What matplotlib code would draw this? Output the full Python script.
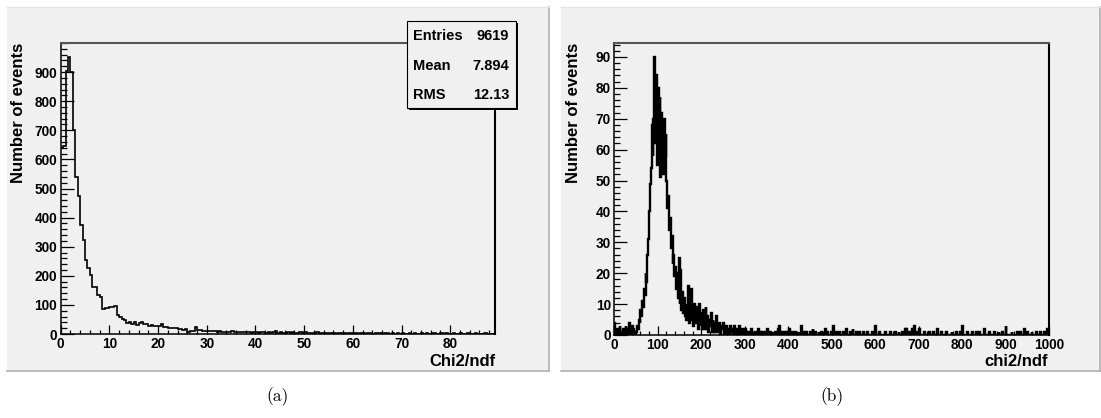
import numpy as np
import matplotlib
matplotlib.use('Agg')
import matplotlib.pyplot as plt
from matplotlib.patches import Rectangle
from matplotlib.ticker import MultipleLocator

# ---------------- data ----------------
# (a) Chi2/ndf, bins of 0.5 from 0 to 89
bin_width_a = 0.5
counts_a = [638, 645, 905, 953, 899, 701, 541, 474, 375, 323, 254, 227, 203,
            162, 160, 134, 128, 86, 88, 90, 92, 94, 95, 65, 60,
            50, 48, 39, 42, 34, 40, 30, 39, 42, 34, 33, 29, 30, 29, 28,
            27, 33, 25, 24, 20, 21, 19, 20, 16, 17, 15, 16, 8, 11, 12, 23, 14, 13,
            11, 12, 10, 11, 12, 9, 8, 9, 7, 8, 8, 7, 9, 8, 7, 7, 6, 8, 6, 7, 5, 6,
            7, 5, 8, 6, 4, 7, 5, 6, 9, 4, 6, 5, 3, 7, 4, 6, 5, 3, 6, 4,
            6, 3, 5, 2, 4, 7, 3, 2, 4, 3, 2, 5, 3, 1, 4, 2, 3, 1, 4, 2,
            2, 3, 1, 2, 4, 1, 3, 2, 1, 3, 2, 4, 1, 2, 3, 1, 2, 0, 3, 1,
            2, 1, 0, 3, 1, 2, 0, 1, 3, 1, 2, 0, 1, 2, 1, 0, 2, 1, 3, 0,
            1, 2, 0, 1, 3, 1, 0, 2, 1, 0, 2, 1, 0, 1, 2, 0, 1, 0]
stats_labels = ['Entries', 'Mean', 'RMS']
stats_values = ['9619', '7.894', '12.13']

# (b) chi2/ndf, bins of 2 from 0 to 1000
bin_width_b = 2
counts_b_core = [4, 1, 0, 2, 0, 1, 3, 0, 1, 0, 2, 0, 0, 3, 1, 0, 2, 4, 0, 1, 3, 0, 2, 1, 0,
                 1, 3, 2, 5, 4,
                 8, 6, 11, 9, 15, 13, 20, 17, 26, 31, 40, 49, 54, 68, 58,
                 70, 90, 62, 84, 55,
                 80, 60, 77, 51, 72,
                 66, 52, 70, 58, 65,
                 50, 41, 45, 34, 38,
                 28, 32, 23, 26, 19,
                 22, 15, 20, 12, 25,
                 10, 21, 8, 14, 7,
                 12, 6, 10, 5, 9,
                 16, 4, 9, 15, 5,
                 8, 3, 10, 4, 7,
                 9, 2, 10, 3, 7,
                 5, 2, 8, 2, 5,
                 9, 2, 6, 1, 5,
                 3, 7, 1, 5, 1, 4, 1, 6, 1, 3, 1, 4, 0, 3, 2,
                 4, 0, 2, 0, 3,
                 1, 2, 0, 3, 1,
                 2, 0, 1, 3, 0,
                 1, 2, 0, 1, 3, 0, 2, 1, 0, 2]
tail_x_b = [300, 304, 308, 314, 318, 324, 330, 336, 340, 346,
            352, 358, 364, 370, 376, 380, 386, 392, 398, 402,
            408, 416, 424, 430, 436, 442, 450, 456, 462, 470,
            476, 484, 490, 498, 504, 510, 518, 526, 534, 542,
            548, 556, 564, 572, 582, 592, 600, 610, 622, 634,
            646, 654, 662, 668, 672, 678, 684, 690, 696, 702,
            712, 724, 734, 742, 752, 764, 776, 786, 796, 800,
            812, 824, 832, 840, 850, 862, 874, 884, 892, 900,
            914, 926, 934, 942, 950, 960, 970, 980, 988, 996]
tail_n_b = [2, 1, 1, 2, 1, 1, 2, 1, 1, 1,
            2, 1, 1, 1, 2, 3, 1, 1, 1, 2,
            1, 1, 1, 3, 1, 1, 1, 2, 1, 1,
            1, 2, 1, 1, 3, 1, 1, 1, 2, 1,
            2, 1, 1, 1, 1, 1, 3, 1, 1, 1,
            1, 1, 1, 2, 2, 1, 2, 3, 1, 2,
            1, 1, 1, 2, 1, 1, 1, 1, 1, 3,
            1, 1, 1, 1, 2, 1, 1, 1, 1, 3,
            1, 1, 1, 2, 1, 1, 1, 1, 1, 2]

# ---------------- figure ----------------
plt.rcParams['font.family'] = ['Liberation Sans', 'DejaVu Sans']
plt.rcParams['font.weight'] = 'bold'

W, H = 1101, 418
fig = plt.figure(figsize=(W / 100, H / 100), dpi=100)
fig.patch.set_facecolor('white')

def fx(x):
    return x / W

def fy(y):
    return 1 - y / H

PAD = '#f0f0f0'

def draw_pad(x0, y0, x1, y1):
    fig.add_artist(Rectangle((fx(x0), fy(y1)), fx(x1) - fx(x0), fy(y0) - fy(y1),
                             transform=fig.transFigure, fc=PAD, ec='none', zorder=-10))
    # bevel: dark bottom / right edges, light top
    fig.add_artist(plt.Line2D([fx(x0), fx(x1)], [fy(y1), fy(y1)], transform=fig.transFigure,
                              color='#b0b0b0', lw=1.2, zorder=-9))
    fig.add_artist(plt.Line2D([fx(x1), fx(x1)], [fy(y0), fy(y1)], transform=fig.transFigure,
                              color='#b0b0b0', lw=1.2, zorder=-9))
    fig.add_artist(plt.Line2D([fx(x0), fx(x1)], [fy(y0), fy(y0)], transform=fig.transFigure,
                              color='#e4e4e4', lw=1.0, zorder=-9))


def style_axes(ax):
    ax.set_facecolor('none')
    for s in ['left', 'bottom']:
        ax.spines[s].set_color('black')
        ax.spines[s].set_linewidth(1.1)
    ax.spines['top'].set_color('#555555')
    ax.spines['top'].set_linewidth(1.5)
    ax.spines['right'].set_color('black')
    ax.spines['right'].set_linewidth(1.5)
    ax.tick_params(axis='both', which='both', direction='in', top=False, right=False,
                   width=0.9, colors='black', labelsize=9.8, pad=2.5)
    ax.tick_params(axis='x', which='major', length=6.5)
    ax.tick_params(axis='x', which='minor', length=3.2)
    ax.tick_params(axis='y', which='major', length=9.3)
    ax.tick_params(axis='y', which='minor', length=4.5)
    for lab in ax.get_xticklabels() + ax.get_yticklabels():
        lab.set_fontweight('bold')


draw_pad(7, 7, 549, 371)
draw_pad(561, 7, 1100, 371)

# ---- (a) ----
edges_a = np.arange(len(counts_a) + 1) * bin_width_a
ax1 = fig.add_axes([fx(60.7), fy(334), fx(495) - fx(60.7), fy(43) - fy(334)])
ax1.stairs(counts_a, edges_a, color='black', lw=1.2, baseline=None)
ax1.set_xlim(0, 89.2)
ax1.set_ylim(0, 1000)
ax1.xaxis.set_minor_locator(MultipleLocator(2))
ax1.yaxis.set_minor_locator(MultipleLocator(20))
ax1.set_xticks(np.arange(0, 81, 10))
ax1.set_yticks(np.arange(0, 901, 100))
style_axes(ax1)

fig.text(fx(18.5), fy(43), 'Number of events', rotation=90, ha='center', va='top',
         fontsize=12, fontweight='bold')
fig.text(fx(495), fy(362), 'Chi2/ndf', ha='right', va='center', fontsize=12, fontweight='bold')

# stats box
bx0, by0, bx1, by1 = 407, 21, 516, 108
fig.add_artist(Rectangle((fx(bx0 + 2), fy(by1 + 2)), fx(bx1) - fx(bx0), fy(by0) - fy(by1),
                         transform=fig.transFigure, fc='black', ec='none', zorder=5))
fig.add_artist(Rectangle((fx(bx0), fy(by1)), fx(bx1) - fx(bx0), fy(by0) - fy(by1),
                         transform=fig.transFigure, fc=PAD, ec='black', lw=0.8, zorder=6))
for i, (lab, val) in enumerate(zip(stats_labels, stats_values)):
    yy = fy(36.5 + i * 29.3)
    fig.text(fx(412.5), yy, lab, ha='left', va='center', fontsize=10.5, fontweight='bold', zorder=7)
    fig.text(fx(509), yy, val, ha='right', va='center', fontsize=10.5, fontweight='bold', zorder=7)

# ---- (b) ----
counts_b = np.zeros(1000 // bin_width_b)
counts_b[:len(counts_b_core)] = counts_b_core
counts_b[np.array(tail_x_b) // bin_width_b] = tail_n_b
edges_b = np.arange(len(counts_b) + 1) * bin_width_b
ax2 = fig.add_axes([fx(614.3), fy(335), fx(1049) - fx(614.3), fy(43) - fy(335)])
ax2.stairs(counts_b, edges_b, color='black', lw=1.7, baseline=None)
ax2.set_xlim(0, 1000)
ax2.set_ylim(0, 94.5)
ax2.xaxis.set_minor_locator(MultipleLocator(20))
ax2.yaxis.set_minor_locator(MultipleLocator(2))
ax2.set_xticks(np.arange(0, 1001, 100))
ax2.set_yticks(np.arange(0, 91, 10))
style_axes(ax2)

fig.text(fx(573.3), fy(43), 'Number of events', rotation=90, ha='center', va='top',
         fontsize=12, fontweight='bold')
fig.text(fx(1048), fy(362), 'chi2/ndf', ha='right', va='center', fontsize=12, fontweight='bold')

# captions
fig.text(fx(278), fy(397), '(a)', ha='center', va='center', fontsize=12.5,
         fontfamily='cmr10', fontweight='normal')
fig.text(fx(832), fy(397), '(b)', ha='center', va='center', fontsize=12.5,
         fontfamily='cmr10', fontweight='normal')

fig.savefig('out.png', dpi=100, facecolor='white')
